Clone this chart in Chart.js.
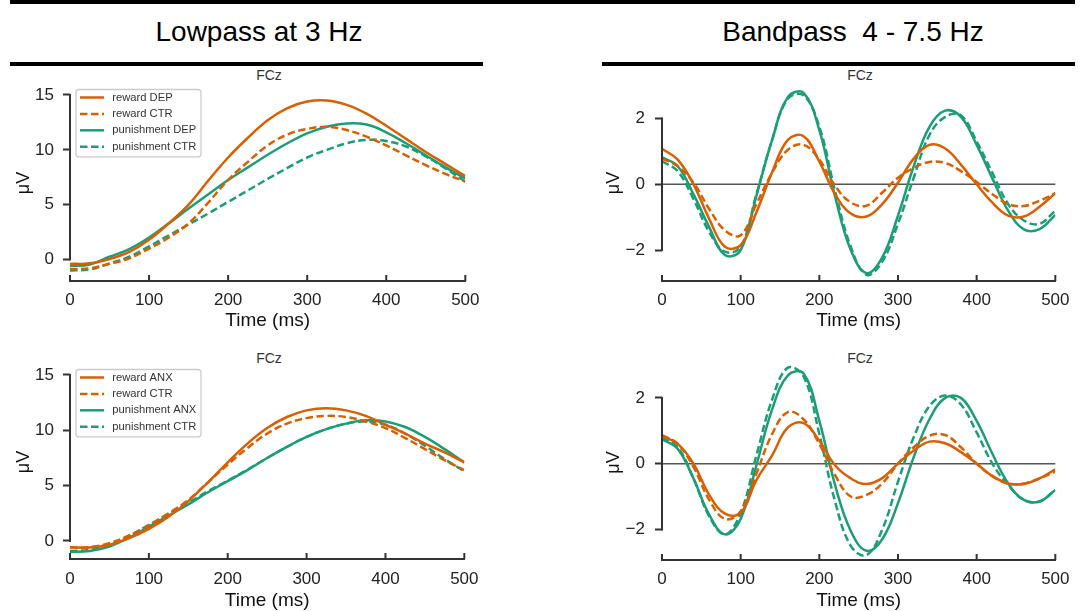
<!DOCTYPE html>
<html lang="en">
<head>
  <meta charset="UTF-8" />
  <title>FCz - Lowpass / Bandpass</title>
  <script src="https://cdn.jsdelivr.net/npm/chart.js"></script>
  <style>
    body {
      margin: 0;
      width: 1086px;
      height: 611px;
      overflow: hidden;
      background: #fff;
      font-family: 'Liberation Sans', Arial, sans-serif;
      position: relative;
    }
    .rule { position: absolute; background: #000; }
    .heading {
      position: absolute;
      font-size: 28px;
      line-height: 28px;
      color: #000;
      white-space: pre;
      text-align: center;
      width: 400px;
    }
    .panel-title {
      position: absolute;
      width: 100px;
      text-align: center;
      font-size: 14px;
      line-height: 14px;
      color: #333;
    }
    canvas { position: absolute; }
  </style>
</head>
<body>
  <div class="rule" style="left:10px; top:0; width:1065px; height:4px;"></div>
  <div class="heading" style="left:59px; top:18px;">Lowpass at 3 Hz</div>
  <div class="heading" style="left:653px; top:18px;">Bandpass  4 - 7.5 Hz</div>
  <div class="rule" style="left:10px; top:62px; width:473px; height:4px;"></div>
  <div class="rule" style="left:602px; top:62px; width:473px; height:4px;"></div>

  <div class="panel-title" style="left:219px; top:68px;">FCz</div>
  <div class="panel-title" style="left:810px; top:68px;">FCz</div>
  <div class="panel-title" style="left:219px; top:351px;">FCz</div>
  <div class="panel-title" style="left:810px; top:351px;">FCz</div>

  <canvas id="lowDep" width="490" height="268" style="left:0; top:66px;"></canvas>
  <canvas id="bandDep" width="500" height="268" style="left:580px; top:66px;"></canvas>
  <canvas id="lowAnx" width="490" height="265" style="left:0; top:346px;"></canvas>
  <canvas id="bandAnx" width="500" height="265" style="left:580px; top:346px;"></canvas>

  <script>
    // time axes (ms)
    const lowTimes = [0, 25, 50, 75, 100, 125, 150, 175, 200, 225, 250, 275, 300, 325, 350, 375, 400, 425, 450, 475, 500];
    const bandTimes = [0, 20, 40, 60, 80, 100, 120, 140, 160, 180, 200, 220, 240, 260, 280, 300, 320, 340, 360, 380, 400, 420, 440, 460, 480, 500];
    const xTicks = [0, 100, 200, 300, 400, 500];
    const lowYTicks = [0, 5, 10, 15];
    const bandYTicks = [-2, 0, 2];

    // Lowpass at 3 Hz, DEP vs CTR (µV)
    const lowRewardDep = [-0.4, -0.35, 0.05, 0.7, 1.8, 3.3, 5.0, 7.2, 9.3, 11.1, 12.7, 13.8, 14.4, 14.5, 14.1, 13.3, 12.2, 11.0, 9.8, 8.7, 7.6];
    const lowRewardCtrA = [-0.9, -0.8, -0.4, 0.1, 1.0, 2.0, 3.3, 5.2, 7.25, 8.9, 10.4, 11.4, 11.9, 12.1, 11.8, 11.2, 10.4, 9.5, 8.6, 7.8, 7.1];
    const lowPunishDep = [-0.6, -0.45, 0.25, 0.95, 2.0, 3.3, 4.65, 5.95, 7.25, 8.4, 9.55, 10.6, 11.5, 12.1, 12.4, 12.3, 11.6, 10.6, 9.5, 8.4, 7.4];
    const lowPunishCtrA = [-1.0, -0.9, -0.35, 0.25, 1.2, 2.2, 3.2, 4.2, 5.25, 6.3, 7.35, 8.35, 9.3, 10.0, 10.6, 10.9, 10.8, 10.3, 9.4, 8.3, 7.1];

    // Lowpass at 3 Hz, ANX vs CTR
    const lowRewardAnx = [-0.55, -0.6, -0.35, 0.25, 1.1, 2.2, 3.6, 5.3, 7.1, 8.8, 10.2, 11.2, 11.8, 12.0, 11.8, 11.3, 10.5, 9.7, 8.8, 8.0, 7.1];
    const lowRewardCtrB = [-0.6, -0.55, -0.2, 0.5, 1.4, 2.5, 3.7, 5.3, 6.9, 8.4, 9.7, 10.6, 11.1, 11.3, 11.2, 10.8, 10.2, 9.3, 8.3, 7.3, 6.4];
    const lowPunishAnx = [-1.0, -0.9, -0.5, 0.3, 1.3, 2.3, 3.3, 4.4, 5.4, 6.4, 7.5, 8.5, 9.4, 10.1, 10.6, 10.9, 10.8, 10.3, 9.4, 8.3, 7.1];
    const lowPunishCtrB = [-0.9, -0.8, -0.35, 0.45, 1.45, 2.45, 3.45, 4.5, 5.45, 6.45, 7.5, 8.5, 9.4, 10.1, 10.6, 10.8, 10.5, 9.7, 8.6, 7.4, 6.3];

    // Bandpass 4 - 7.5 Hz, DEP vs CTR
    const bandRewardDep = [1.08, 0.75, 0.0, -1.05, -1.9, -1.85, -0.85, 0.37, 1.35, 1.46, 0.69, -0.3, -0.89, -0.98, -0.6, 0.05, 0.78, 1.2, 1.09, 0.6, 0.0, -0.56, -0.95, -0.98, -0.68, -0.27];
    const bandRewardCtrA = [0.78, 0.55, 0.05, -0.75, -1.4, -1.55, -0.6, 0.35, 1.05, 1.2, 0.75, -0.05, -0.55, -0.65, -0.25, 0.2, 0.5, 0.68, 0.65, 0.4, 0.07, -0.3, -0.6, -0.66, -0.5, -0.27];
    const bandPunishDep = [0.82, 0.55, -0.3, -1.3, -2.15, -2.0, -0.35, 1.35, 2.65, 2.78, 1.65, -0.37, -2.0, -2.7, -2.22, -0.95, 0.55, 1.75, 2.24, 2.05, 1.2, 0.18, -0.8, -1.37, -1.36, -0.93];
    const bandPunishCtrA = [0.7, 0.4, -0.45, -1.45, -2.05, -1.9, -0.3, 1.35, 2.6, 2.7, 1.75, -0.2, -1.9, -2.75, -2.35, -1.2, 0.2, 1.5, 2.05, 2.1, 1.3, 0.35, -0.6, -1.1, -1.2, -0.8];

    // Bandpass 4 - 7.5 Hz, ANX vs CTR
    const bandRewardAnx = [0.84, 0.6, 0.0, -0.95, -1.52, -1.5, -0.5, 0.25, 1.1, 1.23, 0.7, -0.05, -0.45, -0.62, -0.44, 0.0, 0.4, 0.67, 0.62, 0.35, 0.0, -0.38, -0.6, -0.62, -0.45, -0.17];
    const bandRewardCtrB = [0.87, 0.6, -0.1, -1.1, -1.68, -1.45, -0.3, 0.9, 1.57, 1.35, 0.6, -0.35, -1.0, -0.95, -0.6, 0.0, 0.5, 0.85, 0.87, 0.5, 0.0, -0.38, -0.6, -0.6, -0.45, -0.24];
    const bandPunishAnx = [0.74, 0.45, -0.45, -1.55, -2.15, -1.68, -0.05, 1.65, 2.68, 2.74, 1.3, -0.65, -2.05, -2.65, -2.3, -1.2, 0.2, 1.35, 2.0, 2.0, 1.3, 0.3, -0.6, -1.1, -1.15, -0.8];
    const bandPunishCtrB = [0.8, 0.5, -0.45, -1.6, -2.15, -1.5, 0.25, 1.95, 2.92, 2.65, 0.9, -1.15, -2.5, -2.78, -2.0, -0.55, 0.8, 1.75, 2.07, 1.8, 0.95, 0.0, -0.65, -1.1, -1.15, -0.8];

    const ORANGE = '#d95f02';
    const GREEN = '#1b9e77';

    Chart.defaults.font.family = "'Liberation Sans', Arial, sans-serif";

    // y spine trimmed to the tick range, inward x ticks, zero line
    const axisExtras = {
      id: 'axisExtras',
      beforeDatasetsDraw(chart, args, opts) {
        if (!opts.zeroLine) return;
        const { ctx, chartArea, scales: { y } } = chart;
        const py = y.getPixelForValue(0);
        ctx.save();
        ctx.strokeStyle = '#555';
        ctx.lineWidth = 1.5;
        ctx.beginPath();
        ctx.moveTo(chartArea.left, py);
        ctx.lineTo(chartArea.right, py);
        ctx.stroke();
        ctx.restore();
      },
      afterDraw(chart, args, opts) {
        const { ctx, chartArea, scales: { x, y } } = chart;
        const yt = opts.yTicks;
        ctx.save();
        ctx.strokeStyle = '#333';
        ctx.lineWidth = 2;
        ctx.beginPath();
        ctx.moveTo(chartArea.left, y.getPixelForValue(yt[0]) + 1);
        ctx.lineTo(chartArea.left, y.getPixelForValue(yt[yt.length - 1]) - 1);
        xTicks.forEach(v => {
          const px = x.getPixelForValue(v);
          ctx.moveTo(px, chartArea.bottom);
          ctx.lineTo(px, chartArea.bottom - 6);
        });
        ctx.stroke();
        ctx.restore();
      }
    };

    // legend box drawn inside the plot, top left
    const insideLegend = {
      id: 'insideLegend',
      afterDraw(chart, args, opts) {
        if (!opts.show) return;
        const { ctx, chartArea } = chart;
        const sets = chart.data.datasets;
        ctx.save();
        ctx.font = "11.2px 'Liberation Sans', Arial, sans-serif";
        const textW = Math.max(...sets.map(d => ctx.measureText(d.label).width));
        const x0 = chartArea.left + 6;
        const y0 = chartArea.top + 4.5;
        const w = 36.3 + textW + 4.7;
        const h = 67.4;
        ctx.beginPath();
        if (ctx.roundRect) ctx.roundRect(x0, y0, w, h, 3); else ctx.rect(x0, y0, w, h);
        ctx.fillStyle = 'rgba(255,255,255,0.85)';
        ctx.fill();
        ctx.strokeStyle = '#cccccc';
        ctx.lineWidth = 1.3;
        ctx.stroke();
        sets.forEach((d, i) => {
          const yy = y0 + 8 + i * 16.4;
          ctx.beginPath();
          ctx.setLineDash(d.borderDash || []);
          ctx.strokeStyle = d.borderColor;
          ctx.lineWidth = 2.5;
          ctx.moveTo(x0 + 4, yy);
          ctx.lineTo(x0 + 28, yy);
          ctx.stroke();
          ctx.setLineDash([]);
          ctx.fillStyle = '#333';
          ctx.textBaseline = 'middle';
          ctx.fillText(d.label, x0 + 36.3, yy);
        });
        ctx.restore();
      }
    };

    function makePanel(id, p) {
      const tickFont = { size: 17, lineHeight: 1 };
      const titleFont = { size: 19, lineHeight: 1 };
      new Chart(document.getElementById(id), {
        type: 'line',
        data: {
          datasets: p.series.map(s => ({
            label: s.label,
            data: p.times.map((t, i) => ({ x: t, y: s.values[i] })),
            borderColor: s.color,
            borderDash: s.dash ? [7.5, 3.5] : [],
            borderWidth: 2.5,
            pointRadius: 0,
            tension: 0.4,
            fill: false
          }))
        },
        options: {
          responsive: false,
          animation: false,
          devicePixelRatio: 1,
          layout: { padding: { top: p.padTop, right: p.padRight, left: 0, bottom: 0 } },
          plugins: {
            legend: { display: false },
            tooltip: { enabled: false },
            insideLegend: { show: p.legend },
            axisExtras: { zeroLine: p.zeroLine, yTicks: p.yTicks }
          },
          scales: {
            x: {
              type: 'linear',
              min: 0,
              max: 500,
              afterBuildTicks: s => { s.ticks = xTicks.map(v => ({ value: v })); },
              afterFit: s => { s.height = p.xHeight; },
              grid: { display: false, drawTicks: false },
              border: { display: true, color: '#333', width: 2 },
              ticks: { font: tickFont, color: '#222', padding: p.xLabelPad, maxRotation: 0 },
              title: { display: true, text: 'Time (ms)', font: titleFont, color: '#111', padding: { top: 0, bottom: p.xTitlePad } }
            },
            y: {
              min: p.yMin,
              max: p.yMax,
              afterBuildTicks: s => { s.ticks = p.yTicks.map(v => ({ value: v })); },
              afterFit: s => { s.width = p.yWidth; },
              grid: { display: true, drawOnChartArea: false, drawTicks: true, tickLength: 7, tickColor: '#333', tickWidth: 2 },
              border: { display: false },
              ticks: { font: tickFont, color: '#222', padding: p.yLabelPad, callback: v => String(v).replace('-', '\u2212') },
              title: { display: true, text: 'μV', font: { size: 18, lineHeight: 1 }, color: '#111', padding: { top: p.yTitlePad, bottom: 0 } }
            }
          }
        },
        plugins: [axisExtras, insideLegend]
      });
    }

    makePanel('lowDep', {
      times: lowTimes, yTicks: lowYTicks, yMin: -1.96, yMax: 15.91,
      padTop: 19, padRight: 23, xHeight: 53, yWidth: 70,
      xLabelPad: 10.5, xTitlePad: 3.5, yLabelPad: 9, yTitlePad: 15,
      legend: true, zeroLine: false,
      series: [
        { label: 'reward DEP', values: lowRewardDep, color: ORANGE, dash: false },
        { label: 'reward CTR', values: lowRewardCtrA, color: ORANGE, dash: true },
        { label: 'punishment DEP', values: lowPunishDep, color: GREEN, dash: false },
        { label: 'punishment CTR', values: lowPunishCtrA, color: GREEN, dash: true }
      ]
    });

    makePanel('lowAnx', {
      times: lowTimes, yTicks: lowYTicks, yMin: -1.63, yMax: 15.9,
      padTop: 19, padRight: 23, xHeight: 52, yWidth: 70,
      xLabelPad: 11.5, xTitlePad: 1, yLabelPad: 9, yTitlePad: 15,
      legend: true, zeroLine: false,
      series: [
        { label: 'reward ANX', values: lowRewardAnx, color: ORANGE, dash: false },
        { label: 'reward CTR', values: lowRewardCtrB, color: ORANGE, dash: true },
        { label: 'punishment ANX', values: lowPunishAnx, color: GREEN, dash: false },
        { label: 'punishment CTR', values: lowPunishCtrB, color: GREEN, dash: true }
      ]
    });

    makePanel('bandDep', {
      times: bandTimes, yTicks: bandYTicks, yMin: -2.94, yMax: 3.02,
      padTop: 19, padRight: 22, xHeight: 53, yWidth: 82,
      xLabelPad: 10.5, xTitlePad: 3.5, yLabelPad: 10, yTitlePad: 25,
      legend: false, zeroLine: true,
      series: [
        { label: 'reward DEP', values: bandRewardDep, color: ORANGE, dash: false },
        { label: 'reward CTR', values: bandRewardCtrA, color: ORANGE, dash: true },
        { label: 'punishment DEP', values: bandPunishDep, color: GREEN, dash: false },
        { label: 'punishment CTR', values: bandPunishCtrA, color: GREEN, dash: true }
      ]
    });

    makePanel('bandAnx', {
      times: bandTimes, yTicks: bandYTicks, yMin: -2.93, yMax: 3.0,
      padTop: 19, padRight: 22, xHeight: 51, yWidth: 82,
      xLabelPad: 10.5, xTitlePad: 1, yLabelPad: 10, yTitlePad: 25,
      legend: false, zeroLine: true,
      series: [
        { label: 'reward ANX', values: bandRewardAnx, color: ORANGE, dash: false },
        { label: 'reward CTR', values: bandRewardCtrB, color: ORANGE, dash: true },
        { label: 'punishment ANX', values: bandPunishAnx, color: GREEN, dash: false },
        { label: 'punishment CTR', values: bandPunishCtrB, color: GREEN, dash: true }
      ]
    });
  </script>
</body>
</html>
